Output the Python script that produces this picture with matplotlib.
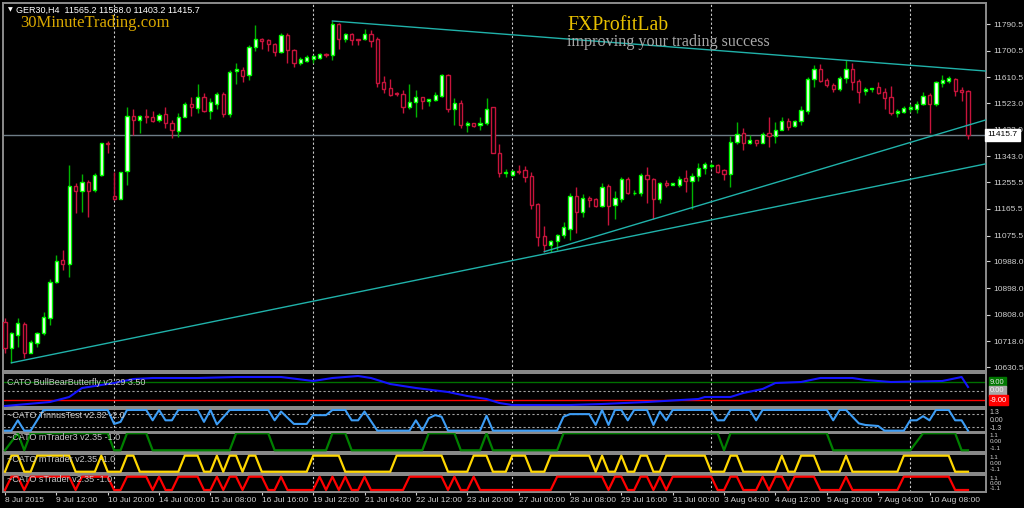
import matplotlib
matplotlib.use('Agg')
import matplotlib.pyplot as plt
import matplotlib.transforms as mtransforms
import numpy as np

W, H = 1024, 508

# ---------------- data (GER30, H4) ----------------
opens = [10784, 10694, 10739, 10776, 10679, 10711, 10745, 10795, 10917, 10993,
         10979, 11243, 11227, 11257, 11228, 11279, 11389, 11210, 11200, 11295,
         11480, 11466, 11480, 11477, 11466, 11486, 11455, 11430, 11477, 11519,
         11508, 11545, 11498, 11521, 11553, 11487, 11631, 11635, 11617, 11712,
         11739, 11737, 11723, 11697, 11753, 11703, 11660, 11667, 11673, 11677,
         11690, 11686, 11790, 11739, 11756, 11740, 11739, 11757, 11739, 11595,
         11573, 11557, 11554, 11511, 11528, 11543, 11531, 11534, 11549, 11618,
         11505, 11525, 11449, 11455, 11448, 11455, 11509, 11356, 11286, 11281,
         11295, 11297, 11277, 11182, 11074, 11045, 11057, 11077, 11097, 11209,
         11154, 11204, 11198, 11175, 11243, 11179, 11198, 11265, 11218, 11218,
         11281, 11265, 11198, 11252, 11245, 11248, 11269, 11261, 11277, 11303,
         11310, 11313, 11297, 11283, 11393, 11423, 11387, 11398, 11390, 11421,
         11412, 11434, 11464, 11446, 11463, 11498, 11604, 11637, 11601, 11584,
         11571, 11607, 11637, 11598, 11563, 11570, 11577, 11560, 11543, 11491,
         11492, 11502, 11505, 11519, 11551, 11520, 11592, 11598, 11604, 11567,
         11565.2]
highs = [10795, 10750, 10795, 10784, 10722, 10750, 10818, 10927, 11009, 11026,
         11314, 11252, 11282, 11263, 11286, 11389, 11396, 11291, 11291, 11509,
         11503, 11483, 11502, 11496, 11491, 11509, 11466, 11489, 11528, 11545,
         11588, 11556, 11539, 11562, 11562, 11635, 11658, 11644, 11720, 11787,
         11743, 11739, 11728, 11759, 11761, 11708, 11678, 11686, 11686, 11694,
         11694, 11801, 11793, 11759, 11761, 11740, 11774, 11770, 11746, 11615,
         11604, 11562, 11567, 11588, 11567, 11543, 11538, 11562, 11622, 11622,
         11539, 11534, 11464, 11457, 11475, 11539, 11511, 11385, 11299, 11297,
         11314, 11310, 11291, 11184, 11108, 11060, 11080, 11121, 11220, 11238,
         11216, 11209, 11201, 11252, 11250, 11227, 11272, 11274, 11229, 11288,
         11306, 11269, 11257, 11263, 11252, 11277, 11297, 11286, 11322, 11325,
         11322, 11317, 11301, 11412, 11459, 11439, 11416, 11398, 11425, 11475,
         11458, 11475, 11472, 11466, 11513, 11613, 11652, 11655, 11607, 11590,
         11615, 11669, 11658, 11605, 11577, 11575, 11596, 11575, 11581, 11505,
         11513, 11522, 11530, 11560, 11558, 11599, 11618, 11615, 11607, 11577,
         11568.0]
lows = [10677, 10645, 10699, 10660, 10677, 10697, 10739, 10773, 10914, 10959,
        10936, 11153, 11156, 11139, 11224, 11277, 11353, 11195, 11199, 11246,
        11415, 11421, 11457, 11460, 11460, 11438, 11407, 11410, 11475, 11480,
        11491, 11494, 11469, 11504, 11475, 11475, 11588, 11596, 11601, 11700,
        11705, 11700, 11682, 11694, 11658, 11644, 11652, 11663, 11660, 11671,
        11680, 11669, 11708, 11729, 11720, 11720, 11737, 11712, 11577, 11558,
        11547, 11549, 11491, 11502, 11475, 11504, 11513, 11531, 11543, 11494,
        11449, 11438, 11427, 11443, 11432, 11449, 11353, 11272, 11274, 11277,
        11283, 11257, 11164, 11040, 11021, 11021, 11026, 11066, 11060, 11085,
        11137, 11173, 11173, 11173, 11111, 11133, 11190, 11216, 11212, 11209,
        11186, 11130, 11184, 11241, 11245, 11241, 11224, 11164, 11261, 11283,
        11303, 11288, 11263, 11241, 11385, 11365, 11385, 11378, 11387, 11374,
        11390, 11432, 11432, 11441, 11449, 11486, 11579, 11596, 11577, 11562,
        11564, 11592, 11567, 11525, 11551, 11562, 11554, 11505, 11483, 11475,
        11489, 11494, 11491, 11517, 11423, 11513, 11579, 11590, 11547, 11530,
        11403.2]
closes = [10694, 10745, 10778, 10677, 10714, 10745, 10799, 10917, 10990, 10978,
          11243, 11226, 11256, 11227, 11279, 11387, 11385, 11198, 11289, 11480,
          11466, 11480, 11477, 11464, 11482, 11455, 11432, 11477, 11520, 11509,
          11545, 11498, 11526, 11553, 11486, 11630, 11637, 11616, 11714, 11739,
          11734, 11723, 11696, 11752, 11703, 11660, 11671, 11678, 11681, 11688,
          11686, 11790, 11739, 11756, 11737, 11737, 11756, 11734, 11592, 11571,
          11551, 11553, 11511, 11528, 11543, 11531, 11536, 11551, 11618, 11505,
          11525, 11449, 11457, 11446, 11455, 11505, 11356, 11288, 11291, 11295,
          11290, 11274, 11180, 11072, 11045, 11057, 11077, 11103, 11209, 11154,
          11204, 11195, 11176, 11241, 11175, 11201, 11265, 11218, 11220, 11281,
          11265, 11198, 11252, 11245, 11252, 11266, 11261, 11277, 11303, 11317,
          11314, 11292, 11283, 11393, 11419, 11387, 11398, 11390, 11419, 11412,
          11434, 11464, 11443, 11463, 11500, 11605, 11637, 11598, 11584, 11570,
          11608, 11637, 11596, 11561, 11571, 11575, 11556, 11542, 11489, 11498,
          11508, 11509, 11519, 11548, 11520, 11596, 11601, 11607, 11564, 11561,
          11415.7]

last_price = 11415.7
price_ticks = [11790.5, 11700.5, 11610.5, 11523.0, 11433.0, 11343.0, 11255.5,
               11165.5, 11075.5, 10988.0, 10898.0, 10808.0, 10718.0, 10630.5]

date_labels = ['8 Jul 2015', '9 Jul 12:00', '10 Jul 20:00', '14 Jul 00:00',
               '15 Jul 08:00', '16 Jul 16:00', '19 Jul 22:00', '21 Jul 04:00',
               '22 Jul 12:00', '23 Jul 20:00', '27 Jul 00:00', '28 Jul 08:00',
               '29 Jul 16:00', '31 Jul 00:00', '3 Aug 04:00', '4 Aug 12:00',
               '5 Aug 20:00', '7 Aug 04:00', '10 Aug 08:00']
label_step = 8
grid_bars = [17, 48, 79, 110, 141]

# trend lines: two anchors (bar, price), drawn as rays to the right
trend_lines = [((51, 11801), (131, 11668)),
               ((1, 10645), (151, 11310)),
               ((84, 11021), (107, 11170))]

# CATO BullBearButterfly (blue)
bbf_bar = [0, 7, 10, 12, 15, 17, 20, 23, 30, 36, 43, 48, 51, 55, 57, 60, 64, 69,
           72, 75, 77, 79, 88, 93, 100, 108, 109, 113, 115, 118, 120, 124, 127,
           132, 134, 138, 146, 149, 150]
bbf_val = [-15, -11, -6, 3, 6, 8, 12, 13, 13, 14, 14, 10, 13, 15, 13, 7, 3, -1,
           -5, -8, -12, -14, -14, -13, -11, -8, -6, -6, -2, 2, 8, 9, 13,
           13, 11, 9, 10, 14, 4]

# CATO TinnusTest
tt_bar = [0, 1, 2, 3, 4, 6, 16, 17, 18, 19, 22, 23, 24, 25, 26, 27, 30, 31, 32, 33,
          35, 41, 42, 43, 45, 47, 48, 50, 51, 53, 54, 55, 56, 58, 63, 64, 65, 66,
          67, 68, 69, 74, 75, 76, 86, 87, 88, 91, 92, 93, 94, 95, 96, 97, 98, 100,
          101, 102, 103, 104, 110, 111, 112, 113, 116, 117, 118, 128, 129, 130,
          131, 133, 134, 136, 137, 140, 141, 142, 143, 144, 145, 147, 148, 149, 150]
tt_val = [-2, -2, 0, -2, -2, 2, 2, -0.7, -0.3, 2, 2, 0, 2, 0, 0, 2, 2, -0.3, 2, -0.8,
          2, 2, 0, 1.7, -0.7, -0.7, 1, 1, 2, 2, 0, 0, 1.7, -2, -2, 0, -2, 0.4,
          1, 0.7, -2, -2, 0.9, -2, -2, 0.7, 1.2, 1.2, -0.9, 2, -0.9, 2, 2, 0, 2, 2,
          -0.9, 1.7, 0, 2, 2, 0, 0, 2, 2, 0, 2, 2, 0, 2,
          2, -0.6, -0.9, -1.1, -2, -2, 0, 0, 0.8, 0, 2, 2, 0, 0, -2]

# CATO mTrader3 (green)
m3_bar = [0, 2, 3, 4, 16, 17, 18, 19, 22, 23, 35, 36, 41, 42, 50, 51, 53, 54, 65,
          66, 70, 71, 74, 75, 76, 86, 87, 111, 112, 113, 128, 129, 141, 143, 148,
          149, 150]
m3_val = [-1, 1, -1, 1, 1, -1, -1, 1, 1, -1, -1, 1, 1, -1, -1, 1, 1, -1, -1,
          1, 1, -1, -1, 1, -1, -1, 1, 1, -1, 1, 1, -1, -1, 1, 1,
          -1, -1]

# CATO mTrader (yellow)
mt_pts = [(0, -1), (1, 1), (2, 1), (3, -1), (4, -1), (5, 1), (10, 1), (11, -1),
          (14, -1), (15, 1), (16, -1), (18, -1), (19, 1), (20, 1), (21, -1),
          (27, -1), (28, 1), (30, 1), (31, -1), (32, -1), (33, 1), (34, -1),
          (35, 1), (36, 1), (37, -1), (38, 1), (39, 1), (40, -1), (47, -1),
          (48, 1), (52, 1), (53, -1), (60, -1), (61, 1), (68, 1), (69, -1),
          (72, -1), (73, 1), (75, 1), (76, -1), (78, -1), (79, 1), (81, 1),
          (82, -1), (84, -1), (85, 1), (91, 1), (92, -1), (93, 1), (94, -1),
          (95, -1), (96, 1), (97, -1), (98, -1), (99, 1), (100, 1), (101, -1),
          (102, -1), (103, 1), (109, 1), (110, -1), (112, -1), (113, 1),
          (114, 1), (115, -1), (120, -1), (121, 1), (122, -1), (123, -1),
          (124, 1), (126, 1), (127, -1), (130, -1), (131, 1), (132, -1),
          (139, -1), (140, 1), (147, 1), (148, -1), (150, -1)]

# CATO sTrader (red)
st_pts = [(0, -1), (1, 1), (2, 1), (3, -1), (4, 1), (10, 1), (11, -1), (12, 1),
          (16, 1), (17, -1), (18, -1), (19, 1), (22, 1), (23, -1), (24, 1),
          (25, -1), (26, -1), (27, 1), (30, 1), (31, -1), (32, -1), (33, 1),
          (34, -1), (35, 1), (36, 1), (37, -1), (38, 1), (40, 1), (41, -1),
          (42, -1), (43, 1), (44, -1), (48, -1), (49, 1), (50, -1), (51, 1),
          (52, -1), (53, 1), (54, -1), (55, -1), (56, 1), (57, -1), (62, -1),
          (63, 1), (68, 1), (69, -1), (70, 1), (71, -1), (72, -1), (73, 1),
          (74, -1), (85, -1), (86, 1), (93, 1), (94, -1), (95, 1), (96, 1),
          (97, -1), (98, -1), (99, 1), (100, 1), (101, -1), (102, 1), (103, -1),
          (104, 1), (110, 1), (111, -1), (112, -1), (113, 1), (114, 1),
          (115, -1), (117, -1), (118, 1), (119, -1), (120, 1), (121, 1),
          (122, -1), (123, 1), (126, 1), (127, -1), (130, -1), (131, 1),
          (132, -1), (139, -1), (140, 1), (147, 1), (148, -1), (150, -1)]

# ---------------- layout helpers ----------------
def box(x0, y0, x1, y1):
    return [x0 / W, 1 - y1 / H, (x1 - x0) / W, (y1 - y0) / H]

XLIM = (-0.31, 152.8)
FRAME = '#8c8c8c'
TXT = '#d0d0d0'
SANS = 'Liberation Sans'
SERIF = 'Liberation Serif'

fig = plt.figure(figsize=(W / 100, H / 100), dpi=100, facecolor='black')


def style(ax, ylim):
    ax.set_facecolor('black')
    ax.set_xlim(*XLIM)
    ax.set_ylim(*ylim)
    for s in ax.spines.values():
        s.set_color(FRAME)
        s.set_linewidth(1.4)
    ax.set_xticks([])
    ax.set_yticks([])
    for g in grid_bars:
        ax.axvline(g, color='#c8c8c8', lw=0.8, ls=(0, (2, 2)), zorder=1)


# ---------------- main price chart ----------------
ax = fig.add_axes(box(3, 3, 986, 371))
style(ax, (10617.3, 11861.9))

idx = np.arange(len(opens))
o, h, l, c = map(np.array, (opens, highs, lows, closes))
up = c >= o
dn = ~up
bull_edge, bull_wick, bear = '#00ff00', '#00b400', '#c8143c'
ax.vlines(idx[up], l[up], h[up], color=bull_wick, lw=1, zorder=2)
ax.vlines(idx[dn], l[dn], h[dn], color=bear, lw=1, zorder=2)
ax.bar(idx[up], np.maximum(c[up] - o[up], 1), bottom=o[up], width=0.5,
       color='white', edgecolor=bull_edge, lw=1, zorder=3)
ax.bar(idx[dn], np.maximum(o[dn] - c[dn], 1), bottom=c[dn], width=0.5,
       color='black', edgecolor=bear, lw=1, zorder=3)

ax.axhline(last_price, color='#6e7c86', lw=1, zorder=1.5)

for (x1, y1), (x2, y2) in trend_lines:
    k = (y2 - y1) / (x2 - x1)
    xe = XLIM[1]
    ax.plot([x1, xe], [y1, y1 + k * (xe - x1)], color='#20b2aa', lw=1, zorder=4)

ax.yaxis.tick_right()
ax.set_yticks(price_ticks)
ax.set_yticklabels(['%.1f' % p for p in price_ticks], fontfamily=SANS)
ax.tick_params(axis='y', colors=TXT, labelsize=6, length=3, width=0.8, pad=2)
ax.text(1.0015, last_price, '%.1f' % last_price,
        transform=mtransforms.blended_transform_factory(ax.transAxes, ax.transData),
        ha='left', va='center', fontsize=6, fontfamily=SANS, color='black',
        bbox=dict(boxstyle='square,pad=0.25', fc='white', ec='white'), zorder=10, clip_on=False)

# header texts
fig.text(8 / W, 1 - 10 / H, '\u25bc', fontsize=4.5, color='white', va='center')
fig.text(16 / W, 1 - 10 / H, 'GER30,H4  11565.2 11568.0 11403.2 11415.7',
         fontsize=6.5, color='white', va='center', fontfamily=SANS)
fig.text(20 / W, 1 - 27 / H, '30MinuteTrading.com', fontsize=12,
         color='#d9a800', fontfamily=SERIF, va='baseline')
fig.text(567 / W, 1 - 30 / H, 'FXProfitLab', fontsize=14.2,
         color='#e8c000', fontfamily=SERIF, va='baseline')
fig.text(567 / W, 1 - 45.5 / H, 'improving your trading success', fontsize=11.6,
         color='#a8a8a8', fontfamily=SERIF, va='baseline')

# ---------------- indicator panels ----------------
def right_label(ax, y, s, fc=None, col=TXT, size=5.5):
    tr = mtransforms.blended_transform_factory(ax.transAxes, ax.transData)
    kw = dict(transform=tr, ha='left', va='center', fontsize=size, color=col,
              fontfamily=SANS, clip_on=False)
    if fc:
        kw['bbox'] = dict(boxstyle='square,pad=0.15', fc=fc, ec=fc)
    ax.text(1.004, y, s, **kw)


def title(ax, s):
    ax.text(0.004, 0.72, s, transform=ax.transAxes, fontsize=6.5, color='#c8c8c8',
            fontfamily=SANS, va='center', ha='left', zorder=6)


def level_labels(ax):
    # three stacked scale labels squeezed into a short panel
    right_label(ax, 0.75, '1.1', size=4.5)
    right_label(ax, 0.05, '0.00', size=4.5)
    right_label(ax, -0.75, '-1.1', size=4.5)


# BullBearButterfly
a1 = fig.add_axes(box(3, 373, 986, 407))
style(a1, (-16, 18))
a1.axhline(9, color='#007000', lw=1)
a1.axhline(-9, color='#ff0000', lw=1)
a1.axhline(0, color='#a0a0a0', lw=0.8, ls=(0, (2, 2)))
a1.plot(bbf_bar, bbf_val, color='#1414ff', lw=1.5, zorder=5)
title(a1, 'CATO BullBearButterfly v2.29 3.50')
right_label(a1, 9, '9.00', fc='#007800', col='#e8e8e8')
right_label(a1, 0, '0.00', fc='#a8a8a8', col='#f4f4f4')
right_label(a1, -9, '-9.00', fc='#ff0000', col='#ffffff')

# TinnusTest
a2 = fig.add_axes(box(3, 409, 986, 432))
style(a2, (-2.26, 2.19))
a2.axhline(1.3, color='#a0a0a0', lw=0.8, ls=(0, (2, 2)))
a2.axhline(-1.3, color='#a0a0a0', lw=0.8, ls=(0, (2, 2)))
a2.plot(tt_bar, tt_val, color='#3d9df5', lw=1.5, zorder=5)
title(a2, '~CATO TinnusTest v2.32 -2.0')
right_label(a2, 1.6, '1.3', size=5)
right_label(a2, 0, '0.00', size=5)
right_label(a2, -1.6, '-1.3', size=5)

# mTrader3
a3 = fig.add_axes(box(3, 432.5, 986, 452))
style(a3, (-1.2, 1.09))
a3.plot(m3_bar, m3_val, color='#008000', lw=1.6, zorder=5)
title(a3, '~CATO mTrader3 v2.35 -1.0')
level_labels(a3)

# mTrader
a4 = fig.add_axes(box(3, 454, 986, 473))
style(a4, (-1.16, 1.21))
mx, my = zip(*mt_pts)
a4.plot(mx, my, color='#ffd700', lw=1.6, zorder=5)
title(a4, '~CATO mTrader v2.35 -1.0')
level_labels(a4)

# sTrader
a5 = fig.add_axes(box(3, 474.5, 986, 492))
style(a5, (-1.3, 1.33))
sx, sy = zip(*st_pts)
a5.plot(sx, sy, color='#ff0000', lw=1.6, zorder=5)
title(a5, '~CATO sTrader v2.35 -1.0')
level_labels(a5)

a5.set_xticks(np.arange(len(date_labels)) * label_step)
a5.set_xticklabels(date_labels, ha='left', fontfamily=SANS)
a5.tick_params(axis='x', colors=TXT, labelsize=6, length=2, width=0.8, pad=1.5)

fig.savefig('out.png', dpi=100, facecolor='black')
